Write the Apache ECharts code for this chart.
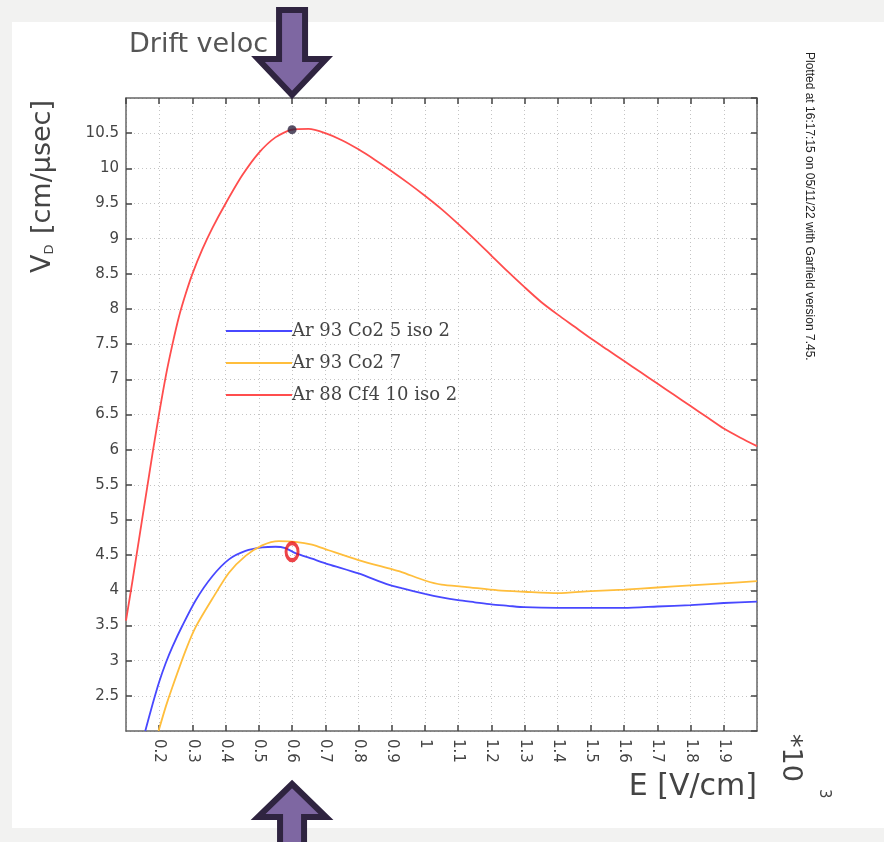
<!DOCTYPE html>
<html>
<head>
<meta charset="utf-8">
<title>Drift velocity</title>
<script src="https://cdn.jsdelivr.net/npm/echarts@6/dist/echarts.min.js"></script>
<style>
  html, body { margin: 0; padding: 0; background: #f2f2f1; }
  #panel { position: absolute; left: 12px; top: 22px; width: 872px; height: 806px; background: #fff; }
  #chart { position: absolute; left: 0; top: 0; width: 884px; height: 842px; }
</style>
</head>
<body>
<div id="panel"></div>
<div id="chart"></div>
<script>
// E field in units of 10^3 V/cm, drift velocity in cm/usec
var blueCurve = [
  [0.158, 2.0], [0.18, 2.38], [0.2, 2.7], [0.22, 2.97], [0.24, 3.2], [0.27, 3.5],
  [0.31, 3.86], [0.36, 4.2], [0.41, 4.44], [0.46, 4.56], [0.51, 4.61], [0.55, 4.62],
  [0.58, 4.6], [0.61, 4.53], [0.66, 4.45], [0.71, 4.37], [0.8, 4.24], [0.89, 4.08],
  [0.93, 4.03], [1.0, 3.95], [1.05, 3.9], [1.1, 3.86], [1.15, 3.83], [1.2, 3.8],
  [1.25, 3.78], [1.3, 3.76], [1.4, 3.75], [1.5, 3.75], [1.6, 3.75], [1.7, 3.77],
  [1.8, 3.79], [1.9, 3.82], [2.0, 3.84]
]
var yellowCurve = [
  [0.198, 2.0], [0.22, 2.35], [0.24, 2.63], [0.28, 3.15], [0.31, 3.48], [0.36, 3.88],
  [0.41, 4.25], [0.46, 4.49], [0.51, 4.64], [0.56, 4.7], [0.61, 4.69], [0.66, 4.65],
  [0.71, 4.57], [0.8, 4.43], [0.9, 4.3], [0.93, 4.26], [1.0, 4.14], [1.05, 4.08],
  [1.12, 4.05], [1.22, 4.0], [1.3, 3.98], [1.4, 3.96], [1.5, 3.99], [1.6, 4.01],
  [1.7, 4.04], [1.8, 4.07], [1.9, 4.1], [2.0, 4.13]
]
var redCurve = [
  [0.1, 3.57], [0.12, 4.15], [0.14, 4.75], [0.16, 5.35], [0.18, 5.95], [0.2, 6.52],
  [0.22, 7.05], [0.24, 7.5], [0.26, 7.9], [0.28, 8.22], [0.3, 8.5], [0.33, 8.85],
  [0.36, 9.15], [0.4, 9.5], [0.45, 9.9], [0.5, 10.22], [0.55, 10.44], [0.6, 10.55],
  [0.65, 10.56], [0.7, 10.5], [0.75, 10.4], [0.8, 10.27], [0.85, 10.12], [0.9, 9.96],
  [0.95, 9.79], [1.0, 9.61], [1.05, 9.42], [1.1, 9.21], [1.15, 8.99], [1.2, 8.76],
  [1.25, 8.53], [1.3, 8.31], [1.35, 8.1], [1.4, 7.92], [1.45, 7.75], [1.5, 7.58],
  [1.55, 7.42], [1.6, 7.26], [1.65, 7.1], [1.7, 6.94], [1.75, 6.78], [1.8, 6.62],
  [1.85, 6.46], [1.9, 6.3], [1.95, 6.17], [2.0, 6.05]
]
var seriesNames = ['Ar 93 Co2 5 iso 2', 'Ar 93 Co2 7', 'Ar 88 Cf4 10 iso 2']
var peakDot = [[0.6, 10.55]]
var circledPoint = [[0.6, 4.55]]
var arrowAt = 0.6

var xRange = [0.1, 2.0]
var yRange = [2, 11]

var chart = echarts.init(document.getElementById('chart'))

var axisColor = '#666'
var sans = 'DejaVu Sans'

function frameAxis(extra) {
  return Object.assign({
    axisLine: { show: true, onZero: false, lineStyle: { color: axisColor, width: 1.5 } },
    axisTick: { show: true, inside: true, length: 6, lineStyle: { color: '#444', width: 1.5 } },
    axisLabel: { show: false },
    splitLine: { show: false }
  }, extra)
}

chart.setOption({
  animation: false,
  title: {
    text: 'Drift veloc',
    left: 124,
    top: 26,
    textStyle: { fontFamily: sans, fontSize: 27, fontWeight: 'normal', color: '#555' }
  },
  legend: {
    data: seriesNames,
    orient: 'vertical',
    left: 226,
    top: 322,
    padding: 0,
    icon: 'rect',
    itemWidth: 66,
    itemHeight: 2,
    itemGap: 14,
    textStyle: { fontFamily: 'DejaVu Serif', fontSize: 18, color: '#444', padding: [5, 0, 0, -5] }
  },
  grid: { left: 126, right: 127, top: 98, bottom: 111, containLabel: false },
  xAxis: [
    {
      type: 'value',
      min: xRange[0],
      max: xRange[1],
      interval: 0.1,
      name: 'E [V/cm]',
      nameLocation: 'end',
      nameGap: 0,
      nameTextStyle: { fontFamily: sans, fontSize: 30, color: '#444', align: 'right', verticalAlign: 'top', padding: [41, 0, 0, 0] },
      axisLine: { onZero: false, lineStyle: { color: axisColor, width: 1.5 } },
      axisTick: { inside: true, length: 6, lineStyle: { color: '#444', width: 1.5 } },
      axisLabel: {
        rotate: -90, margin: 8, fontFamily: sans, fontSize: 15, color: '#444',
        showMinLabel: false, showMaxLabel: false
      },
      splitLine: { show: true, lineStyle: { color: '#c4c4c4', type: [1, 3], width: 1 } }
    },
    frameAxis({ type: 'value', position: 'top', min: xRange[0], max: xRange[1], interval: 0.1 })
  ],
  yAxis: [
    {
      type: 'value',
      min: yRange[0],
      max: yRange[1],
      interval: 0.5,
      name: '{v|V}{d|D}{t| [cm/\u03bcsec]}',
      nameLocation: 'end',
      nameRotate: 90,
      nameGap: -2,
      nameTextStyle: {
        align: 'right', verticalAlign: 'bottom', padding: [0, 0, 70, 0],
        rich: {
          v: { fontFamily: sans, fontSize: 27, color: '#444' },
          d: { fontFamily: sans, fontSize: 13, color: '#444', verticalAlign: 'bottom', padding: [0, 2, 0, 0] },
          t: { fontFamily: sans, fontSize: 27, color: '#444' }
        }
      },
      axisLine: { onZero: false, lineStyle: { color: axisColor, width: 1.5 } },
      axisTick: { inside: true, length: 6, lineStyle: { color: '#444', width: 1.5 } },
      axisLabel: {
        margin: 7, fontFamily: sans, fontSize: 15, color: '#444',
        showMinLabel: false, showMaxLabel: false
      },
      splitLine: { show: true, lineStyle: { color: '#c4c4c4', type: [1, 3], width: 1 } }
    },
    frameAxis({ type: 'value', position: 'right', min: yRange[0], max: yRange[1], interval: 0.5 })
  ],
  series: [
    {
      name: seriesNames[0], type: 'line', data: blueCurve, symbol: 'none', smooth: 0.25,
      color: '#4848ff', lineStyle: { color: '#4848ff', width: 1.8 }, z: 3
    },
    {
      name: seriesNames[1], type: 'line', data: yellowCurve, symbol: 'none', smooth: 0.25,
      color: '#ffbe3c', lineStyle: { color: '#ffbe3c', width: 1.8 }, z: 3
    },
    {
      name: seriesNames[2], type: 'line', data: redCurve, symbol: 'none', smooth: 0.25,
      color: '#ff4d4d', lineStyle: { color: '#ff4d4d', width: 1.8 }, z: 3
    },
    {
      name: 'peak', type: 'scatter', data: peakDot, symbol: 'circle', symbolSize: 9,
      itemStyle: { color: '#2d2440' }, z: 5
    },
    {
      name: 'marked', type: 'scatter', data: circledPoint, symbol: 'circle', symbolSize: [12, 17],
      itemStyle: { color: 'rgba(0,0,0,0)', borderColor: '#e8141a', borderWidth: 3.5 }, z: 5
    }
  ],
  graphic: [
    {
      id: 'stamp', type: 'text', x: 803, y: 52, rotation: -Math.PI / 2,
      style: {
        text: 'Plotted at 16:17:15 on 05/11/22 with Garfield version 7.45.',
        fontFamily: 'Liberation Sans', fontSize: 12, fill: '#222', textAlign: 'left', textVerticalAlign: 'bottom'
      }
    },
    {
      id: 'scale', type: 'text', x: 777, y: 734, rotation: -Math.PI / 2,
      style: { text: '*10', fontFamily: sans, fontSize: 27, fill: '#444', textAlign: 'left', textVerticalAlign: 'bottom' }
    },
    {
      id: 'scaleExp', type: 'text', x: 816, y: 789, rotation: -Math.PI / 2,
      style: { text: '3', fontFamily: sans, fontSize: 15, fill: '#444', textAlign: 'left', textVerticalAlign: 'bottom' }
    }
  ]
})

// arrows pointing at E = 0.6 from above and below the frame
var topTip = chart.convertToPixel({ xAxisIndex: 0, yAxisIndex: 0 }, [arrowAt, yRange[1]])
var botTip = chart.convertToPixel({ xAxisIndex: 0, yAxisIndex: 0 }, [arrowAt, yRange[0]])
var arrowStyle = { fill: '#7e67a2', stroke: '#2f2440', lineWidth: 6, lineJoin: 'miter' }
chart.setOption({
  graphic: [
    {
      id: 'arrowDown', type: 'polygon', x: topTip[0], y: topTip[1] - 3, z: 10,
      shape: { points: [[-13, -85], [13, -85], [13, -36], [34, -36], [0, 0], [-34, -36], [-13, -36]] },
      style: arrowStyle
    },
    {
      id: 'arrowUp', type: 'polygon', x: botTip[0], y: botTip[1] + 53, z: 10,
      shape: { points: [[0, 0], [34, 33], [12, 33], [12, 70], [-12, 70], [-12, 33], [-34, 33]] },
      style: arrowStyle
    }
  ]
})
</script>
</body>
</html>
